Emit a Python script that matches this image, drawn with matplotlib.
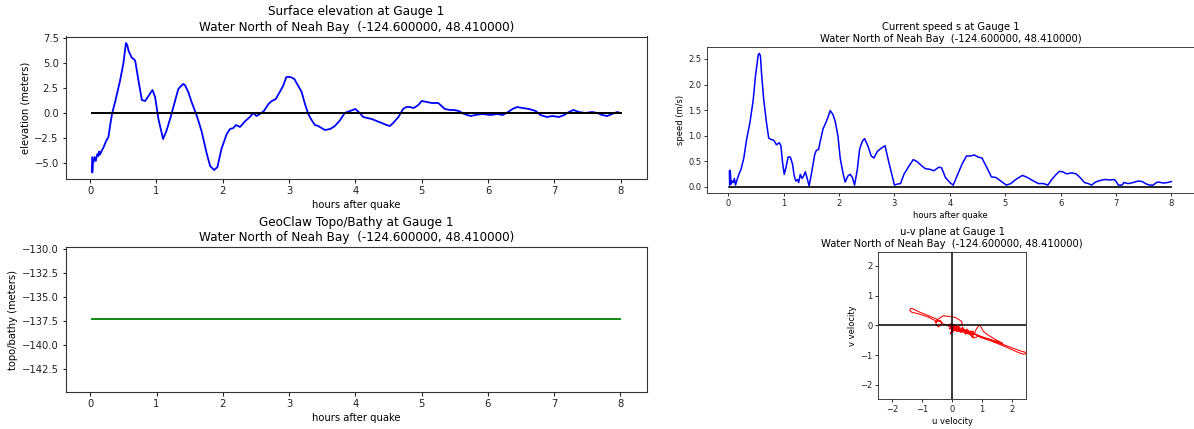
import matplotlib
matplotlib.use("Agg")
import matplotlib.pyplot as plt

# Gauge 1 time series (hours after quake)
eta_t = [0.030, 0.033, 0.040, 0.050, 0.065, 0.085, 0.10, 0.111, 0.125, 0.136, 0.151, 0.176,
         0.201, 0.241, 0.276, 0.30, 0.33, 0.38, 0.45, 0.50, 0.54, 0.56, 0.58, 0.63, 0.66,
         0.68, 0.73, 0.78, 0.83, 0.88, 0.94, 0.98, 1.03, 1.10, 1.15, 1.21, 1.28, 1.33, 1.40,
         1.43, 1.48, 1.53, 1.61, 1.68, 1.76, 1.81, 1.87, 1.92, 1.98, 2.06, 2.11, 2.16, 2.20,
         2.26, 2.34, 2.41, 2.46, 2.51, 2.56, 2.62, 2.69, 2.74, 2.80, 2.86, 2.91, 2.96, 3.02,
         3.08, 3.14, 3.19, 3.24, 3.29, 3.34, 3.39, 3.44, 3.49, 3.54, 3.62, 3.69, 3.76, 3.84,
         3.92, 4.00, 4.05, 4.12, 4.18, 4.25, 4.32, 4.40, 4.47, 4.52, 4.57, 4.65, 4.72, 4.77,
         4.82, 4.88, 4.95, 5.00, 5.08, 5.15, 5.25, 5.30, 5.35, 5.43, 5.49, 5.56, 5.64, 5.74,
         5.81, 5.91, 6.04, 6.14, 6.22, 6.28, 6.37, 6.44, 6.52, 6.62, 6.72, 6.79, 6.89, 6.97,
         7.07, 7.15, 7.22, 7.29, 7.37, 7.47, 7.57, 7.65, 7.72, 7.80, 7.87, 7.95, 8.00]
eta = [-4.45, -5.95, -5.0, -4.9, -4.4, -4.8, -4.3, -4.1, -4.3, -3.85, -4.15, -3.75,
       -3.45, -2.8, -2.4, -1.3, -0.1, 1.2, 3.2, 4.9, 7.0, 6.8, 6.2, 5.5, 5.4,
       5.2, 3.2, 1.3, 1.2, 1.7, 2.3, 1.6, -0.6, -2.6, -1.8, -0.5, 1.2, 2.4, 2.9,
       2.8, 2.1, 1.1, -0.3, -1.8, -4.1, -5.3, -5.7, -5.4, -3.6, -2.1, -1.6, -1.5, -1.2,
       -1.4, -0.8, -0.4, 0.0, -0.3, -0.1, 0.2, 0.9, 1.2, 1.4, 2.1, 2.7, 3.6, 3.6,
       3.4, 2.7, 2.1, 0.9, -0.1, -0.7, -1.2, -1.3, -1.5, -1.7, -1.6, -1.3, -0.8, 0.0,
       0.2, 0.4, 0.1, -0.4, -0.5, -0.6, -0.8, -1.0, -1.2, -1.3, -1.0, -0.4, 0.4, 0.6,
       0.6, 0.5, 0.8, 1.2, 1.1, 1.0, 1.0, 0.7, 0.4, 0.3, 0.3, 0.2, -0.1, -0.3,
       -0.2, -0.1, -0.2, -0.1, -0.2, 0.0, 0.4, 0.6, 0.5, 0.4, 0.2, -0.2, -0.4, -0.3,
       -0.4, -0.2, 0.1, 0.3, 0.1, 0.0, 0.1, 0.0, -0.2, -0.3, -0.1, 0.1, 0.0]

spd_t = [0.02, 0.025, 0.035, 0.05, 0.07, 0.09, 0.11, 0.13, 0.16, 0.19, 0.23, 0.28, 0.33,
         0.39, 0.45, 0.49, 0.54, 0.56, 0.58, 0.60, 0.64, 0.69, 0.73, 0.78, 0.82, 0.87, 0.92,
         0.95, 0.98, 1.01, 1.04, 1.08, 1.12, 1.16, 1.19, 1.22, 1.25, 1.27, 1.30, 1.33, 1.36,
         1.39, 1.42, 1.46, 1.51, 1.56, 1.59, 1.63, 1.66, 1.71, 1.76, 1.80, 1.84, 1.89, 1.93,
         1.98, 2.02, 2.07, 2.11, 2.16, 2.20, 2.24, 2.28, 2.33, 2.37, 2.42, 2.46, 2.52, 2.58,
         2.63, 2.69, 2.77, 2.83, 2.90, 2.96, 3.00, 3.05, 3.11, 3.17, 3.26, 3.34, 3.41, 3.50,
         3.56, 3.64, 3.71, 3.80, 3.85, 3.92, 4.00, 4.06, 4.13, 4.22, 4.30, 4.37, 4.44, 4.51,
         4.58, 4.67, 4.75, 4.83, 4.92, 5.02, 5.10, 5.19, 5.31, 5.40, 5.51, 5.60, 5.69, 5.77,
         5.84, 5.92, 5.98, 6.04, 6.11, 6.20, 6.28, 6.35, 6.43, 6.50, 6.56, 6.63, 6.71, 6.80,
         6.89, 6.97, 7.01, 7.04, 7.11, 7.14, 7.22, 7.31, 7.40, 7.47, 7.55, 7.61, 7.67, 7.73,
         7.77, 7.85, 7.93, 8.00]
spd = [0.30, 0.03, 0.32, 0.05, 0.11, 0.08, 0.16, 0.03, 0.14, 0.24, 0.34, 0.56, 0.92,
       1.25, 1.70, 2.16, 2.58, 2.61, 2.56, 2.22, 1.70, 1.25, 0.95, 0.92, 0.91, 0.82, 0.86,
       0.80, 0.47, 0.24, 0.37, 0.58, 0.58, 0.44, 0.21, 0.11, 0.14, 0.08, 0.24, 0.16, 0.21,
       0.29, 0.18, 0.01, 0.31, 0.63, 0.71, 0.73, 0.89, 1.13, 1.25, 1.36, 1.49, 1.41, 1.28,
       0.99, 0.56, 0.27, 0.09, 0.21, 0.24, 0.18, 0.03, 0.34, 0.73, 0.89, 0.94, 0.80, 0.60,
       0.56, 0.69, 0.76, 0.80, 0.47, 0.21, 0.03, 0.05, 0.06, 0.24, 0.40, 0.53, 0.49, 0.40,
       0.35, 0.34, 0.31, 0.38, 0.37, 0.18, 0.08, 0.03, 0.21, 0.44, 0.60, 0.60, 0.62, 0.58,
       0.56, 0.37, 0.19, 0.18, 0.11, 0.03, 0.06, 0.14, 0.22, 0.18, 0.11, 0.06, 0.06, 0.03,
       0.14, 0.24, 0.30, 0.29, 0.25, 0.27, 0.25, 0.18, 0.08, 0.06, 0.03, 0.09, 0.12, 0.14,
       0.13, 0.14, 0.09, 0.03, 0.03, 0.08, 0.06, 0.08, 0.11, 0.10, 0.05, 0.03, 0.03, 0.08,
       0.09, 0.07, 0.08, 0.10]

# Bathymetry at the gauge (constant)
topo_t = [0.03, 8.00]
topo = [-137.35, -137.35]

# Velocity components traced in the u-v plane
u_vel = [0.00, 0.10, -0.05, 0.15, 0.05, 0.30, 0.60, 1.00, 1.50, 2.00, 2.30, 2.45, 2.47,
         2.40, 2.20, 1.80, 1.30, 1.00, 0.80, 0.60, 0.30, 0.10, -0.05, 0.12, 0.00, -0.30,
         -0.50, -0.80, -1.10, -1.30, -1.38, -1.42, -1.35, -1.10, -0.80, -0.55, -0.52, -0.45,
         -0.33, -0.40, -0.56, -0.48, -0.30, -0.10, 0.10, 0.30, 0.35, 0.20, 0.05, 0.20, 0.40,
         0.60, 0.75, 0.80, 0.90, 0.95, 1.05, 1.20, 1.50, 1.70, 1.30, 0.90, 0.73, 0.60, 0.45,
         0.30, 0.10, -0.05, 0.15, 0.05, -0.10, 0.20, 0.00, 0.10, -0.05, 0.25, 0.05, 0.20,
         0.30, 0.35, 0.45, 0.50, 0.60, 0.70, 0.72, 0.55, 0.40, 0.25, 0.10, -0.05, 0.02,
         -0.15, 0.00]
v_vel = [0.00, -0.15, 0.05, -0.20, 0.02, -0.10, -0.22, -0.38, -0.56, -0.75, -0.86, -0.90,
         -0.95, -0.97, -0.90, -0.72, -0.52, -0.42, -0.32, -0.25, -0.15, -0.08, -0.28, -0.10,
         -0.05, 0.05, 0.20, 0.33, 0.45, 0.55, 0.57, 0.50, 0.44, 0.38, 0.28, 0.15, 0.00,
         -0.05, 0.08, 0.17, 0.10, 0.20, 0.32, 0.30, 0.27, 0.15, 0.05, -0.05, -0.12, -0.20,
         -0.20, -0.30, -0.30, -0.15, 0.00, -0.02, -0.20, -0.32, -0.50, -0.60, -0.48, -0.37,
         -0.42, -0.30, -0.25, -0.20, -0.15, -0.05, -0.18, 0.03, -0.12, -0.08, -0.22, -0.02,
         -0.10, -0.12, -0.03, -0.10, -0.25, -0.05, -0.30, -0.12, -0.28, -0.42, -0.20, -0.20,
         -0.15, -0.18, -0.02, -0.28, -0.10, 0.00, 0.03]

title2 = "Water North of Neah Bay  (-124.600000, 48.410000)"

W, H = 1194, 429
fig = plt.figure(figsize=(W / 100, H / 100), dpi=100)


def px_axes(x0, y0, x1, y1):
    return fig.add_axes([x0 / W, 1 - y1 / H, (x1 - x0) / W, (y1 - y0) / H])


def style(ax, s):
    fs = 10 * s
    for sp in ax.spines.values():
        sp.set_linewidth(1.1 * s)
        sp.set_color("#333333")
    ax.tick_params(labelsize=fs, length=3.5 * s, width=1.1 * s, pad=3.5 * s,
                   colors="#222222")
    return fs


# Surface elevation
ax1 = px_axes(65.7, 36.5, 647, 179)
fs = style(ax1, 0.72)
ax1.plot(eta_t, eta, color="b", lw=1.3)
ax1.plot([eta_t[0], eta_t[-1]], [0, 0], color="k", lw=1.4)
ax1.set_title("Surface elevation at Gauge 1\n" + title2, fontsize=fs * 1.2, pad=6 * 0.72)
ax1.set_xlabel("hours after quake", fontsize=fs, labelpad=4 * 0.72)
ax1.set_ylabel("elevation (meters)", fontsize=fs, labelpad=4 * 0.72)

# Current speed
ax2 = px_axes(707.3, 46.7, 1193.5, 193.3)
fs = style(ax2, 0.6)
ax2.plot(spd_t, spd, color="b", lw=1.1)
ax2.plot([spd_t[0], spd_t[-1]], [0, 0], color="k", lw=1.2)
ax2.set_title("Current speed s at Gauge 1\n" + title2, fontsize=fs * 1.2, pad=6 * 0.6)
ax2.set_xlabel("hours after quake", fontsize=fs, labelpad=4 * 0.6)
ax2.set_ylabel("speed (m/s)", fontsize=fs, labelpad=4 * 0.6)

# Topography / bathymetry
ax3 = px_axes(65.7, 247, 647, 392)
fs = style(ax3, 0.72)
ax3.plot(topo_t, topo, color="g", lw=1.3)
ax3.set_title("GeoClaw Topo/Bathy at Gauge 1\n" + title2, fontsize=fs * 1.2, pad=6 * 0.72)
ax3.set_xlabel("hours after quake", fontsize=fs, labelpad=4 * 0.72)
ax3.set_ylabel("topo/bathy (meters)", fontsize=fs, labelpad=4 * 0.72)
ax3.set_xlim(-0.37, 8.4)
ax3.set_ylim(-144.92, -129.8)

# u-v plane
ax4 = px_axes(878.3, 251.7, 1025.7, 399)
fs = style(ax4, 0.6)
ax4.plot(u_vel, v_vel, color="r", lw=0.75)
ax4.axhline(0, color="k", lw=1.1)
ax4.axvline(0, color="k", lw=1.1)
ax4.set_xlim(-2.47, 2.47)
ax4.set_ylim(-2.47, 2.47)
ax4.set_xticks([-2, -1, 0, 1, 2])
ax4.set_yticks([-2, -1, 0, 1, 2])
ax4.set_title("u-v plane at Gauge 1\n" + title2, fontsize=fs * 1.2, pad=6 * 0.6)
ax4.set_xlabel("u velocity", fontsize=fs, labelpad=4 * 0.6)
ax4.set_ylabel("v velocity", fontsize=fs, labelpad=4 * 0.6)

fig.savefig("out.png", dpi=100)
